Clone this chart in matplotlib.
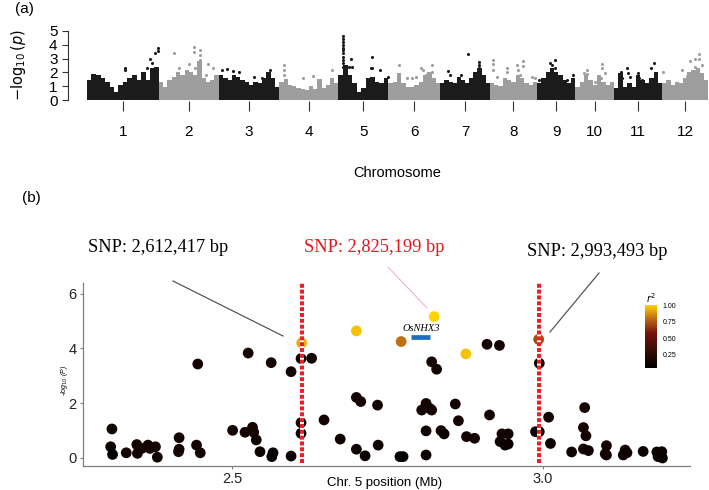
import numpy as np
import matplotlib
matplotlib.use("Agg")
import matplotlib.pyplot as plt
from matplotlib.colors import LinearSegmentedColormap, Normalize
from matplotlib.lines import Line2D
from matplotlib.cm import ScalarMappable

plt.rcParams['font.family'] = ['Liberation Sans', 'DejaVu Sans']

# ---------------- panel (a): genome-wide Manhattan plot ----------------
chrom_names = ['1', '2', '3', '4', '5', '6', '7', '8', '9', '10', '11', '12']
chrom_len = [43.27, 35.94, 36.41, 35.50, 29.96, 31.25, 29.70, 28.44, 23.01, 23.21, 29.02, 27.53]

# upper edge of the dense SNP mass per chromosome (-log10 p), left to right
mass_heights = [
    [1.45, 1.86, 1.8, 1.57, 1.33, 0.97, 0.6, 1.1, 1.33, 1.57, 1.8, 1.45, 2.05, 1.45, 2.3, 2.4],
    [1.33, 0.97, 1.45, 1.7, 2.05, 1.8, 2.17, 2.05, 1.8, 2.8, 1.57, 1.33, 1.45, 1.8],
    [1.8, 1.57, 1.45, 1.8, 1.7, 1.45, 1.33, 1.1, 1.33, 1.2, 1.57, 2.05, 1.57, 0.97],
    [1.3, 1.5, 1.1, 1.0, 0.9, 0.8, 0.7, 1.0, 0.8, 1.5, 0.9, 1.1, 1.6, 1.2],
    [1.8, 2.5, 1.8, 1.2, 0.6, 0.85, 1.57, 1.7, 1.33, 1.2, 1.57],
    [1.2, 1.33, 1.93, 1.2, 0.97, 0.97, 1.1, 1.33, 1.8, 2.05, 1.57, 1.2],
    [1.2, 1.45, 1.33, 1.2, 1.7, 1.45, 1.2, 1.57, 2.05, 2.3, 1.8, 1.2],
    [1.2, 1.1, 1.0, 1.6, 1.45, 1.3, 1.8, 1.6, 1.2, 1.1, 1.3],
    [1.2, 1.57, 2.05, 2.3, 2.05, 1.8, 1.45, 1.2, 1.57],
    [0.97, 1.33, 1.8, 1.45, 1.1, 1.8, 1.33, 1.1, 1.33],
    [0.85, 1.93, 0.97, 1.2, 0.97, 1.8, 1.45, 1.2, 1.57, 2.05, 1.2],
    [1.2, 1.45, 1.1, 1.33, 1.2, 1.57, 2.05, 2.17, 2.3, 1.93, 1.45],
]

# isolated SNPs above the mass: chromosome, position (Mb), -log10 p
out_chr = [1, 1, 1, 1, 1, 1, 1, 1,
           2, 2, 2, 2, 2, 2, 2, 2, 2, 2, 2, 2, 2,
           3, 3, 3, 3, 3, 3, 3,
           4, 4, 4, 4, 4, 4,
           5, 5, 5, 5, 5, 5, 5, 5, 5, 5, 5, 5, 5, 5, 5, 5, 5, 5, 5,
           6, 6, 6, 6, 6, 6, 6, 6, 6,
           7, 7, 7, 7, 7, 7, 7,
           8, 8, 8, 8, 8, 8, 8, 8, 8, 8, 8, 8, 8,
           9, 9, 9, 9, 9, 9, 9, 9,
           10, 10, 10, 10, 10, 10, 10, 10,
           11, 11, 11, 11, 11, 11, 11, 11, 11, 11, 11,
           12, 12, 12, 12, 12, 12, 12, 12, 12]
out_pos = [22.8, 22.8, 35.9, 37.9, 38.9, 40.9, 42.5, 42.5,
           9.2, 12.2, 18.0, 21.0, 21.0, 21.6, 24.6, 24.6, 24.9, 24.6, 28.1, 29.6, 32.6,
           1.7, 5.1, 8.7, 12.1, 21.3, 25.8, 31.0,
           2.9, 2.9, 2.8, 14.4, 20.0, 31.4,
           2.9, 2.9, 2.9, 2.9, 2.9, 2.9, 2.9, 2.9, 2.9, 2.9, 2.9, 7.3, 6.5, 7.9, 20.3, 19.3, 19.9, 29.9, 25.0,
           6.4, 11.4, 14.0, 16.6, 19.6, 21.0, 22.6, 26.0, 26.0,
           4.8, 5.8, 12.3, 16.5, 23.3, 23.3, 23.3,
           1.7, 1.7, 1.7, 4.1, 10.5, 10.5, 16.2, 16.8, 19.8, 18.1, 25.2, 27.2, 19.8,
           1.3, 7.8, 8.8, 10.8, 10.8, 9.1, 17.8, 21.8,
           5.2, 6.8, 6.8, 11.8, 15.4, 15.8, 15.8, 17.8,
           4.2, 4.2, 5.0, 7.6, 8.6, 9.6, 14.6, 15.0, 16.6, 22.2, 24.2,
           0.2, 11.7, 14.7, 16.6, 19.7, 19.7, 22.2, 22.2, 23.7]
out_logp = [2.35, 2.2, 2.3, 2.95, 2.65, 3.4, 3.8, 3.55,
            3.4, 2.35, 2.6, 3.85, 3.45, 2.35, 3.6, 3.25, 2.9, 2.55, 1.8, 2.6, 2.3,
            2.2, 2.25, 2.1, 2.0, 1.7, 1.57, 2.17,
            2.55, 2.2, 1.8, 1.57, 1.75, 2.2,
            4.66, 4.42, 4.18, 3.99, 3.79, 3.62, 3.38, 3.14, 2.9, 2.66, 2.42, 3.0, 2.4, 2.4, 3.14, 2.3, 2.3, 1.7, 2.2,
            2.5, 1.57, 1.6, 1.7, 2.3, 2.17, 1.8, 2.55, 2.05,
            2.1, 1.8, 1.8, 3.3, 2.78, 2.55, 2.3,
            2.9, 2.6, 2.2, 1.7, 2.35, 2.05, 2.5, 2.17, 2.83, 1.8, 1.7, 1.57, 2.45,
            1.45, 2.7, 2.55, 2.9, 2.35, 2.17, 1.45, 1.8,
            1.93, 2.17, 1.9, 1.33, 1.6, 2.6, 2.3, 1.93,
            2.05, 1.8, 1.57, 2.35, 1.93, 1.7, 1.93, 1.57, 1.45, 2.3, 2.66,
            2.05, 2.17, 1.76, 2.83, 3.0, 2.42, 3.3, 2.95, 2.55]

# ---------------- panel (b): regional plot on chromosome 5 ----------------
snp_pos = [2.307, 2.305, 2.308, 2.330, 2.347, 2.348, 2.355, 2.365, 2.368, 2.377,
           2.380, 2.415, 2.415, 2.414, 2.445, 2.443, 2.449, 2.501, 2.521, 2.533,
           2.535, 2.539, 2.545, 2.564, 2.566, 2.595, 2.526, 2.563, 2.595, 2.612,
           2.611, 2.628, 2.611, 2.611, 2.648, 2.674, 2.700, 2.700, 2.707, 2.734,
           2.700, 2.714, 2.735, 2.825, 2.772, 2.876, 2.910, 2.930, 2.821, 2.829,
           2.812, 2.805, 2.818, 2.821, 2.859, 2.864, 2.914, 2.812, 2.836, 2.841,
           2.877, 2.890, 2.934, 2.944, 2.931, 2.939, 2.944, 2.770, 2.775, 2.812,
           2.993, 2.994, 3.009, 2.988, 2.994, 3.012, 3.067, 3.065, 3.069, 3.046,
           3.065, 3.073, 3.102, 3.100, 3.102, 3.132, 3.129, 3.135, 3.161, 3.183,
           3.191, 3.185, 3.192]
snp_logp = [1.06, 0.41, 0.13, 0.19, 0.49, 0.17, 0.35, 0.47, 0.35, 0.41,
            0.03, 0.74, 0.32, 0.23, 3.43, 0.47, 0.19, 1.01, 0.94, 1.12,
            0.94, 0.66, 0.23, 0.05, 0.19, 0.07, 3.83, 3.48, 3.15, 4.20,
            3.63, 3.64, 1.29, 0.90, 1.39, 0.69, 4.64, 2.21, 2.06, 1.93,
            0.32, 0.08, 0.47, 5.16, 4.25, 3.80, 4.15, 4.11, 3.51, 3.24,
            1.99, 1.75, 1.81, 1.75, 1.97, 1.36, 1.57, 0.99, 1.00, 0.88,
            0.78, 0.72, 0.88, 0.88, 0.60, 0.47, 0.51, 0.05, 0.05, 0.11,
            4.33, 3.46, 1.49, 0.96, 0.96, 0.53, 1.84, 1.11, 0.81, 0.22,
            0.33, 0.27, 0.45, 0.15, 0.11, 0.29, 0.11, 0.19, 0.24, 0.22,
            0.23, 0.05, 0.00]
snp_r2 = [0.12, 0.12, 0.05, 0.15, 0.15, 0.12, 0.15, 0.15, 0.15, 0.15,
          0.12, 0.15, 0.15, 0.15, 0.15, 0.15, 0.15, 0.15, 0.15, 0.15,
          0.15, 0.12, 0.12, 0.08, 0.08, 0.10, 0.15, 0.15, 0.15, 0.93,
          0.10, 0.15, 0.12, 0.10, 0.15, 0.12, 0.97, 0.15, 0.15, 0.15,
          0.12, 0.10, 0.12, 1.00, 0.80, 0.97, 0.15, 0.15, 0.15, 0.15,
          0.15, 0.15, 0.15, 0.15, 0.15, 0.15, 0.15, 0.12, 0.15, 0.10,
          0.15, 0.15, 0.15, 0.15, 0.15, 0.10, 0.10, 0.08, 0.08, 0.10,
          0.72, 0.10, 0.15, 0.10, 0.10, 0.12, 0.15, 0.15, 0.15, 0.12,
          0.15, 0.12, 0.15, 0.12, 0.12, 0.15, 0.12, 0.12, 0.12, 0.12,
          0.12, 0.12, 0.10]

lead_snps = [2.612417, 2.825199, 2.993493]
gene_start, gene_end, gene_y = 2.788, 2.819, 4.43

# ---------------- figure ----------------
fig = plt.figure(figsize=(7.09, 4.90), dpi=100)
W, H = 709.0, 490.0

def fx(px):
    return px / W

def fy(py):
    return 1 - py / H

# panel (a)
ax1 = fig.add_axes([fx(68), fy(101), fx(709 - 68), (101 - 25) / H])
starts = np.concatenate([[0], np.cumsum(chrom_len)[:-1]])
for i in range(12):
    col = '#1b1b1b' if i % 2 == 0 else '#9e9e9e'
    h = mass_heights[i]
    bw = chrom_len[i] / len(h)
    xc = starts[i] + bw * (np.arange(len(h)) + 0.5)
    ax1.bar(xc, h, width=bw * 1.02, color=col, linewidth=0)
    sel = [k for k in range(len(out_chr)) if out_chr[k] == i + 1]
    ax1.scatter([starts[i] + out_pos[k] for k in sel], [out_logp[k] for k in sel],
                s=5, color=col, linewidths=0)

ax1.set_xlim(-11.4, np.sum(chrom_len) + 0.5)
ax1.set_ylim(-0.072, 5.43)
ax1.spines['top'].set_visible(False)
ax1.spines['right'].set_visible(False)
ax1.spines['bottom'].set_visible(False)
ax1.spines['left'].set_bounds(0, 5)
ax1.spines['left'].set_color('#333333')
ax1.set_yticks([0, 1, 2, 3, 4, 5])
ax1.set_xticks(starts + np.array(chrom_len) / 2)
ax1.set_xticklabels(chrom_names)
ax1.tick_params(axis='x', length=7, width=0.8, pad=10, labelsize=11, color='#333333')
ax1.tick_params(axis='y', length=4.5, width=0.8, pad=3, labelsize=11, color='#333333')
fig.text(fx(18), fy(65), r'$-\log_{10}(p)$', rotation=90, ha='center', va='center', fontsize=10.5)
fig.text(fx(397), fy(173), 'Chromosome', ha='center', va='center', fontsize=10.5)
fig.text(fx(15), fy(9), '(a)', ha='left', va='center', fontsize=11)

# panel (b)
cmap = LinearSegmentedColormap.from_list(
    'ld', [(0.0, '#000000'), (0.3, '#3a0d05'), (0.55, '#761010'),
           (0.8, '#c27212'), (1.0, '#ffd200')])
norm = Normalize(vmin=0.05, vmax=1.0)

ax2 = fig.add_axes([fx(83), fy(466), fx(690 - 83), (466 - 283) / H])
ax2.scatter(snp_pos, snp_logp, c=snp_r2, cmap=cmap, norm=norm, s=60, linewidths=0, zorder=2)
for k, xv in enumerate(lead_snps):
    if k == 1:
        continue
    ax2.plot([xv, xv], [-0.18, 6.4], color='white', lw=2.9, zorder=3, solid_capstyle='butt')
    ax2.plot([xv, xv], [-0.18, 6.4], color='#e8202a', lw=2.9, zorder=4,
             dashes=(1.0, 0.45))
ax2.plot([gene_start, gene_end], [gene_y, gene_y], color='#1f6fc0', lw=3.4,
         solid_capstyle='butt', zorder=3)
ax2.text((gene_start + gene_end) / 2, 4.71, 'OsNHX3', family='Liberation Serif',
         style='italic', fontsize=7.5, ha='center', va='center')

ax2.set_xlim(2.2605, 3.2363)
ax2.set_ylim(-0.292, 6.387)
ax2.set_xticks([2.5, 3.0])
ax2.set_xticklabels(['2.5', '3.0'])
ax2.set_yticks([0, 2, 4, 6])
for s in ['top', 'right']:
    ax2.spines[s].set_visible(False)
for s in ['left', 'bottom']:
    ax2.spines[s].set_color('#7f7f7f')
    ax2.spines[s].set_linewidth(0.9)
ax2.tick_params(length=2.5, width=0.8, color='#7f7f7f', labelsize=10.5, pad=2,
                labelcolor='#222222')
fig.text(fx(64), fy(380), r'-log$_{10}$ (P)', rotation=90, ha='center', va='center',
         fontsize=5, style='italic')
fig.text(fx(385), fy(483), 'Chr. 5 position (Mb)', ha='center', va='center', fontsize=9.5)
fig.text(fx(22), fy(198), '(b)', ha='left', va='center', fontsize=11)

# SNP callouts
fig.text(fx(158), fy(248), 'SNP: 2,612,417 bp', family='Liberation Serif', fontsize=13.2,
         ha='center', va='center')
fig.text(fx(374), fy(248), 'SNP: 2,825,199 bp', family='Liberation Serif', fontsize=13.2,
         ha='center', va='center', color='#e8141c')
fig.text(fx(597), fy(252), 'SNP: 2,993,493 bp', family='Liberation Serif', fontsize=13.2,
         ha='center', va='center')
fig.add_artist(Line2D([fx(173), fx(283)], [fy(281), fy(336)], transform=fig.transFigure,
                      color='#555555', lw=0.9))
fig.add_artist(Line2D([fx(388), fx(427)], [fy(267), fy(308)], transform=fig.transFigure,
                      color='#f2a0a8', lw=0.6))
fig.add_artist(Line2D([fx(599), fx(550)], [fy(273), fy(332)], transform=fig.transFigure,
                      color='#555555', lw=0.9))

# r2 colour bar
cax = fig.add_axes([fx(645), fy(368), 12 / W, 63 / H])
cb = fig.colorbar(ScalarMappable(norm=norm, cmap=cmap), cax=cax)
cb.set_ticks([0.25, 0.5, 0.75, 1.0])
cb.set_ticklabels(['0.25', '0.50', '0.75', '1.00'])
cb.outline.set_visible(False)
cax.tick_params(labelsize=5, length=2, color='white', pad=2)
fig.text(fx(651), fy(298), r'$r^2$', ha='center', va='center', fontsize=7)

fig.savefig('out.png', dpi=100)
